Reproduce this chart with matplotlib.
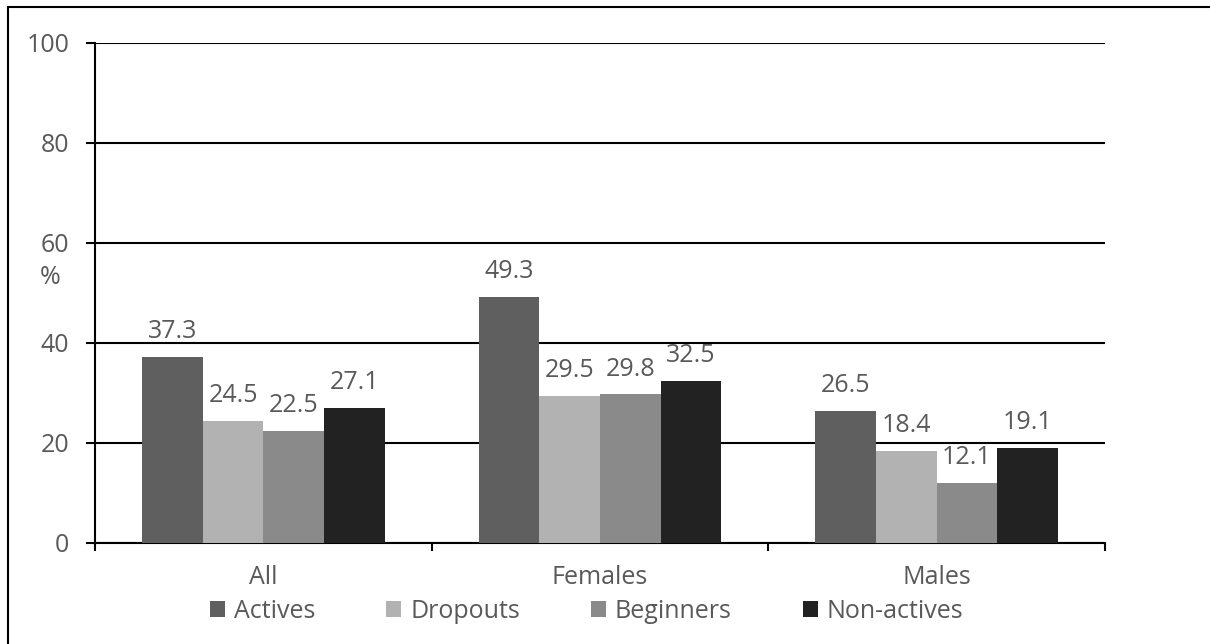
import numpy as np
import matplotlib
matplotlib.use("Agg")
import matplotlib.pyplot as plt
from matplotlib.patches import Rectangle

plt.rcParams['font.family'] = ['Open Sans', 'DejaVu Sans']

groups = ["All", "Females", "Males"]
series = ["Actives", "Dropouts", "Beginners", "Non-actives"]
actives = [37.3, 49.3, 26.5]
dropouts = [24.5, 29.5, 18.4]
beginners = [22.5, 29.8, 12.1]
nonactives = [27.1, 32.5, 19.1]
colors = ["#5f5f5f", "#b2b2b2", "#8a8a8a", "#222222"]
yticks = [0, 20, 40, 60, 80, 100]

txt = "#595959"
fs = 18

fig = plt.figure(figsize=(12.1, 6.44), dpi=100)
ax = fig.add_axes([95/1210, 1 - 543/644, 1010/1210, 500/644])

x = np.arange(len(groups))
w = 0.18
vals = [actives, dropouts, beginners, nonactives]
for i, (v, c, name) in enumerate(zip(vals, colors, series)):
    pos = x + (i - 1.5) * w
    bars = ax.bar(pos, v, width=w, color=c, label=name, zorder=3)
    for b, val in zip(bars, v):
        ax.annotate(f"{val:.1f}", (b.get_x() + b.get_width() / 2, val),
                    xytext=(0, 9), textcoords="offset points",
                    ha="center", va="bottom", fontsize=fs, color=txt)

ax.set_xlim(-0.5, 2.5)
ax.set_ylim(0, 100)
ax.set_yticks(yticks)
ax.yaxis.grid(True, color="black", linewidth=1.5, zorder=0)
ax.set_axisbelow(True)
ax.tick_params(axis="y", length=6.5, width=1.5, pad=12, labelsize=fs, labelcolor=txt)

ax.set_xticks([-0.5, 0.5, 1.5, 2.5])
ax.set_xticklabels([])
ax.set_xticks(x, minor=True)
ax.set_xticklabels(groups, minor=True)
ax.tick_params(axis="x", which="major", length=6, width=1.5)
ax.tick_params(axis="x", which="minor", length=0, pad=16, labelsize=fs, labelcolor=txt)

for s in ["top", "right"]:
    ax.spines[s].set_visible(False)
for s in ["left", "bottom"]:
    ax.spines[s].set_linewidth(1.5)
    ax.spines[s].set_color("black")

fig.text(50/1210, 1 - 278/644, "%", ha="center", va="center", fontsize=fs, color=txt)

leg = fig.legend(loc="center left", bbox_to_anchor=(210/1210, 1 - 611/644),
                 ncol=4, frameon=False, fontsize=fs, handlelength=0.6,
                 handleheight=0.6, handletextpad=0.35, columnspacing=2.85,
                 borderpad=0, borderaxespad=0)
for t in leg.get_texts():
    t.set_color(txt)

fig.patches.append(Rectangle((8/1210, -0.1), 1.2, 1.1 - 7/644, transform=fig.transFigure,
                             fill=False, edgecolor="black", linewidth=1.5))

fig.savefig("out.png", dpi=100)
